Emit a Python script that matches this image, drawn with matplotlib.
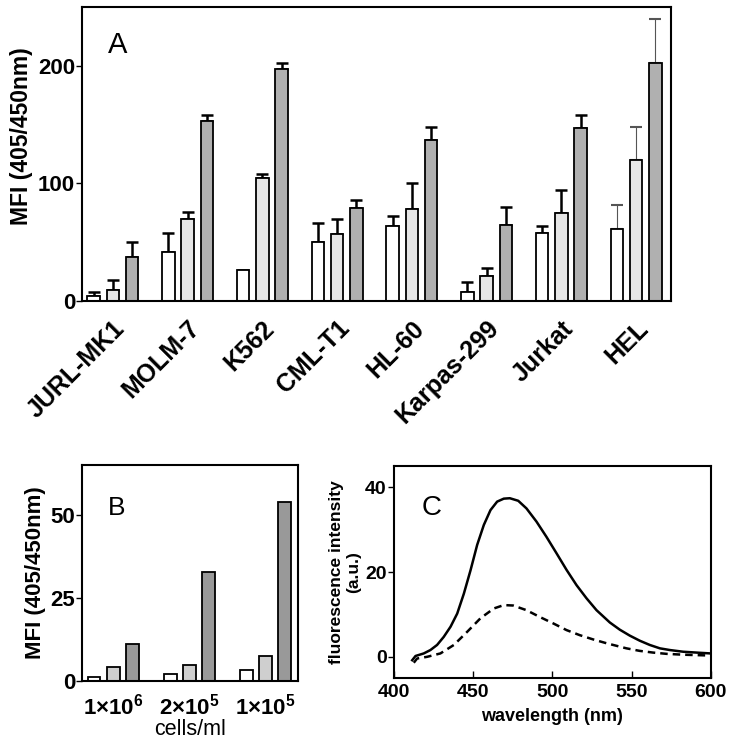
import numpy as np
import matplotlib
matplotlib.use('Agg')
import matplotlib.pyplot as plt

plt.rcParams['font.family'] = ['Liberation Sans', 'DejaVu Sans']
plt.rcParams['mathtext.fontset'] = 'custom'
plt.rcParams['mathtext.rm'] = 'Liberation Sans'
plt.rcParams['mathtext.bf'] = 'Liberation Sans:bold'

# panel A: MFI per cell line, three conditions, upper error only
cell_lines = ['JURL-MK1', 'MOLM-7', 'K562', 'CML-T1', 'HL-60', 'Karpas-299', 'Jurkat', 'HEL']
a_white = [4, 42, 26, 50, 64, 8, 58, 61]
a_white_err = [3.5, 16, np.nan, 16, 8, 8, 6, 21]
a_light = [9, 70, 105, 57, 78, 21, 75, 120]
a_light_err = [9, 6, 3, 13, 22, 7, 19, 28]
a_dark = [37, 153, 197, 79, 137, 65, 147, 202]
a_dark_err = [13, 5, 5, 7, 11, 15, 11, 38]

# panel B: MFI vs cell density
densities = [r'$\mathbf{1{\times}10^{6}}$', r'$\mathbf{2{\times}10^{5}}$',
             r'$\mathbf{1{\times}10^{5}}$']
b_white = [1.3, 2.0, 3.4]
b_light = [4.1, 4.7, 7.6]
b_dark = [11.1, 32.8, 53.8]

# panel C: emission spectra
wl_solid = [411.6, 413.7, 418.9, 423.1, 427.3, 431.5, 435.8, 440.0, 444.2, 448.4, 452.6,
            456.8, 461.0, 465.2, 469.4, 473.2, 478.5, 483.7, 490.0, 496.3, 502.7, 509.0,
            515.3, 521.6, 527.9, 536.3, 542.6, 548.9, 555.2, 561.5, 567.9, 574.2, 582.6,
            593.1, 600.0]
fl_solid = [-0.8, 0.2, 0.8, 1.6, 2.8, 4.7, 7.1, 10.2, 14.9, 20.4, 26.4,
            31.1, 34.6, 36.6, 37.3, 37.4, 36.8, 35.0, 31.9, 28.3, 24.4, 20.5,
            16.9, 13.8, 11.0, 8.1, 6.4, 5.0, 3.8, 2.8, 2.0, 1.6, 1.2,
            0.95, 0.8]
wl_dash = [412.6, 414.7, 421.0, 429.4, 437.9, 446.3, 454.7, 463.1, 469.4, 475.3, 483.7,
           492.1, 500.5, 509.0, 517.4, 525.8, 534.2, 538.4, 546.8, 555.2, 563.6, 572.1,
           582.6, 600.0]
fl_dash = [-1.4, -0.4, 0.0, 0.8, 2.8, 5.9, 9.1, 11.4, 12.2, 12.1, 11.0,
           9.4, 7.9, 6.3, 5.1, 4.1, 3.2, 2.8, 2.0, 1.4, 1.0, 0.7,
           0.5, 0.3]

fig = plt.figure(figsize=(7.32, 7.45), dpi=100)

# ---- A ----
axA = fig.add_axes([0.112, 0.596, 0.8047, 0.3946])
x = np.arange(len(cell_lines))
w = 0.167
off = 0.257
for vals, errs, col, dx in [(a_white, a_white_err, 'white', -off),
                            (a_light, a_light_err, '#e6e6e6', 0),
                            (a_dark, a_dark_err, '#b0b0b0', off)]:
    axA.bar(x + dx, vals, w, color=col, edgecolor='black', linewidth=1.3, zorder=2)
    v = np.array(vals, float)
    e = np.array(errs, float)
    # thick black error bars except HEL
    axA.errorbar(x[:-1] + dx, v[:-1], yerr=[np.zeros(len(v) - 1), e[:-1]], fmt='none',
                 ecolor='black', elinewidth=1.8, capsize=4, capthick=1.8, zorder=1)
    axA.errorbar(x[-1:] + dx, v[-1:], yerr=[[0], e[-1:]], fmt='none',
                 ecolor='#555555', elinewidth=0.8, capsize=4, capthick=1.5, zorder=1)
axA.set_xlim(-0.413, 7.467)
axA.set_ylim(0, 250)
axA.set_yticks([0, 100, 200])
axA.set_xticks(x)
axA.set_xticklabels(cell_lines, rotation=45, ha='right', rotation_mode='anchor',
                    fontsize=18, fontweight='bold')
axA.tick_params(axis='x', length=0, pad=11)
axA.tick_params(axis='y', direction='out', length=4, width=1, labelsize=16, pad=1)
for t in axA.get_yticklabels():
    t.set_fontweight('bold')
axA.set_ylabel('MFI (405/450nm)', fontsize=16.5, fontweight='bold')
axA.yaxis.set_label_coords(-0.083, 0.56)
axA.text(0.044, 0.87, 'A', transform=axA.transAxes, fontsize=21, va='center')
for s in axA.spines.values():
    s.set_linewidth(1.5)

# ---- B ----
axB = fig.add_axes([0.112, 0.0859, 0.295, 0.29])
xb = np.arange(len(densities))
offb = 0.25
axB.bar(xb - offb, b_white, w, color='white', edgecolor='black', linewidth=1.3)
axB.bar(xb, b_light, w, color='#cfcfcf', edgecolor='black', linewidth=1.3)
axB.bar(xb + offb, b_dark, w, color='#999999', edgecolor='black', linewidth=1.3)
axB.set_xlim(-0.41, 2.43)
axB.set_ylim(0, 65)
axB.set_yticks([0, 25, 50])
axB.set_xticks(xb)
axB.set_xticklabels(densities, fontsize=16)
axB.tick_params(axis='x', length=0, pad=9)
axB.tick_params(axis='y', direction='out', length=4, width=1, labelsize=16, pad=1)
for t in axB.get_yticklabels():
    t.set_fontweight('bold')
axB.set_xlabel('cells/ml', fontsize=15.5, labelpad=0)
axB.set_ylabel('MFI (405/450nm)', fontsize=16, fontweight='bold', labelpad=3)
axB.text(0.12, 0.80, 'B', transform=axB.transAxes, fontsize=19, va='center')
for s in axB.spines.values():
    s.set_linewidth(1.5)

# ---- C ----
axC = fig.add_axes([0.538, 0.0899, 0.433, 0.2846])
axC.plot(wl_solid, fl_solid, color='black', linewidth=1.8)
axC.plot(wl_dash, fl_dash, color='black', linewidth=1.8, linestyle=(0, (3, 2)))
axC.set_xlim(400, 600)
axC.set_ylim(-5, 45)
axC.set_xticks([400, 450, 500, 550, 600])
axC.set_yticks([0, 20, 40])
axC.tick_params(axis='x', direction='in', length=5, width=1, labelsize=14, pad=4)
axC.tick_params(axis='y', direction='out', length=4, width=1, labelsize=14, pad=1)
for t in axC.get_xticklabels() + axC.get_yticklabels():
    t.set_fontweight('bold')
axC.set_xlabel('wavelength (nm)', fontsize=13, fontweight='bold', labelpad=5)
axC.set_ylabel('fluorescence intensity\n(a.u.)', fontsize=12.5, fontweight='bold', labelpad=3)
axC.text(0.088, 0.80, 'C', transform=axC.transAxes, fontsize=20, va='center')
for s in axC.spines.values():
    s.set_linewidth(1.5)

plt.savefig('out.png', dpi=100)
